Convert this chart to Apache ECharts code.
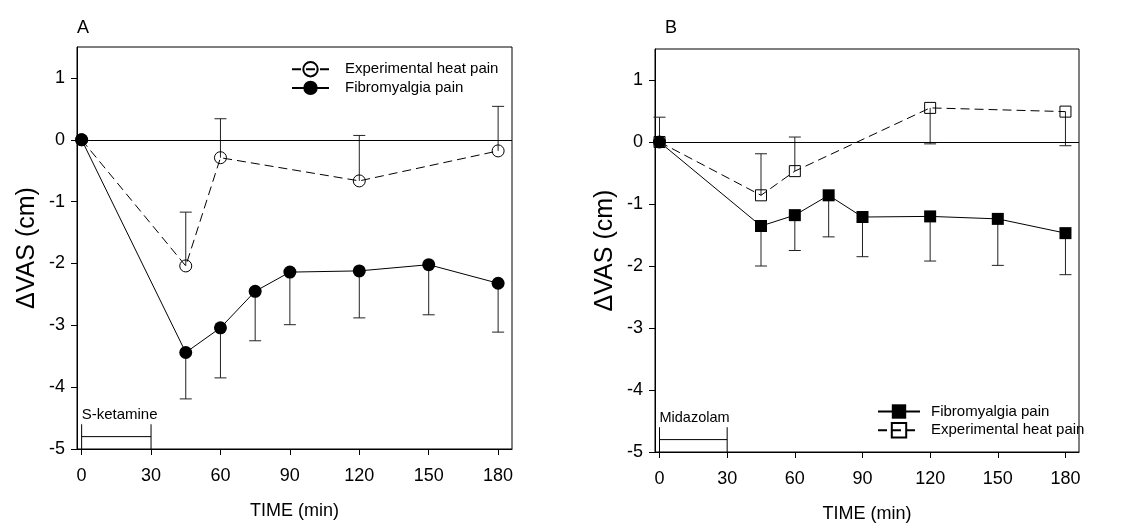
<!DOCTYPE html>
<html><head><meta charset="utf-8">
<script src="https://cdn.jsdelivr.net/npm/echarts@6/dist/echarts.min.js"></script>
<style>html,body{margin:0;padding:0;background:#fff}#c{width:1134px;height:530px}</style>
</head><body><div id="c"></div>
<script>
// ---- tick labels ----
const timeTicks = [0, 30, 60, 90, 120, 150, 180];
const vasTicks = [-5, -4, -3, -2, -1, 0, 1];
// ---- Panel A (S-ketamine) ----
const aFibroTime = [0, 45, 60, 75, 90, 120, 150, 180];
const aFibroVas = [0, -3.44, -3.04, -2.45, -2.14, -2.12, -2.02, -2.32];
const aFibroErrEnd = [null, -4.19, -3.85, -3.25, -2.99, -2.88, -2.83, -3.11];
const aHeatTime = [0, 45, 60, 120, 180];
const aHeatVas = [0, -2.04, -0.29, -0.665, -0.18];
const aHeatErrEnd = [null, -1.17, 0.34, 0.07, 0.54];
// ---- Panel B (Midazolam) ----
const bFibroTime = [0, 45, 60, 75, 90, 120, 150, 180];
const bFibroVas = [0, -1.355, -1.18, -0.86, -1.21, -1.2, -1.24, -1.47];
const bFibroErrEnd = [null, -2.0, -1.75, -1.53, -1.85, -1.92, -1.99, -2.14];
const bHeatTime = [0, 45, 60, 120, 180];
const bHeatVas = [0, -0.86, -0.47, 0.55, 0.49];
const bHeatErrEnd = [0.40, -0.19, 0.08, -0.03, -0.06];
// ---- annotations ----
const panelLetters = ['A', 'B'];
const drugNames = ['S-ketamine', 'Midazolam'];
const infusionWindow = [0, 30];
const bracketLevels = [-4.8, -4.6, -4.45]; // bar, tick top, label
const seriesNames = ['Experimental heat pain', 'Fibromyalgia pain'];

const FONT = '"Liberation Sans", Arial, Helvetica, sans-serif';

function pts(t, v) { return t.map((x, i) => [x, v[i]]); }
function errData(t, v, e) { return t.map((x, i) => [x, v[i], e[i]]).filter(d => d[2] != null); }

function errSeries(idx, data) {
  return {
    type: 'custom', xAxisIndex: idx, yAxisIndex: idx, z: 1, silent: true, data,
    encode: { x: 0, y: [1, 2] },
    renderItem(params, api) {
      const p0 = api.coord([api.value(0), api.value(1)]);
      const p1 = api.coord([api.value(0), api.value(2)]);
      const w = 6;
      return { type: 'group', children: [
        { type: 'line', shape: { x1: p0[0], y1: p0[1], x2: p1[0], y2: p1[1] }, style: { stroke: '#222', lineWidth: 1 } },
        { type: 'line', shape: { x1: p1[0] - w, y1: p1[1], x2: p1[0] + w, y2: p1[1] }, style: { stroke: '#222', lineWidth: 1 } }
      ] };
    }
  };
}

function bracketSeries(idx, label, fs) {
  return {
    type: 'custom', xAxisIndex: idx, yAxisIndex: idx, z: 2, silent: true,
    data: [[infusionWindow[0], infusionWindow[1], bracketLevels[0]]],
    encode: { x: [0, 1], y: 2 },
    renderItem(params, api) {
      const x0 = api.value(0), x1 = api.value(1);
      const yb = api.value(2);
      const a = api.coord([x0, yb]);
      const b = api.coord([x1, yb]);
      const at = api.coord([x0, bracketLevels[1]]);
      const bt = api.coord([x1, bracketLevels[1]]);
      const a0 = api.coord([x0, vasTicks[0]]);
      const b0 = api.coord([x1, vasTicks[0]]);
      const lt = api.coord([x0, bracketLevels[2]]);
      const st = { stroke: '#000', lineWidth: 1 };
      return { type: 'group', children: [
        { type: 'line', shape: { x1: a[0], y1: a[1], x2: b[0], y2: b[1] }, style: st },
        { type: 'line', shape: { x1: at[0], y1: at[1], x2: a0[0], y2: a0[1] }, style: st },
        { type: 'line', shape: { x1: bt[0], y1: bt[1], x2: b0[0], y2: b0[1] }, style: st },
        { type: 'text', x: lt[0], y: lt[1], style: { text: label, fill: '#000', font: fs + 'px ' + FONT, align: 'left', verticalAlign: 'middle' } }
      ] };
    }
  };
}

function xAxisCfg(idx) {
  return {
    type: 'value', gridIndex: idx, min: -2, max: 186,
    name: 'TIME (min)', nameLocation: 'middle', nameGap: 53,
    nameTextStyle: { fontSize: 18, fontFamily: FONT, color: '#000' },
    axisLine: { show: true, onZero: false, lineStyle: { color: '#000', width: 1 } },
    axisTick: { show: true, inside: false, length: 6, customValues: timeTicks, lineStyle: { color: '#000' } },
    axisLabel: { customValues: timeTicks, fontSize: 18, fontFamily: FONT, color: '#000', margin: 18 },
    splitLine: { show: false }
  };
}
function yAxisCfg(idx) {
  return {
    type: 'value', gridIndex: idx, min: -5, max: 1.5,
    name: '\u0394VAS (cm)', nameLocation: 'middle', nameGap: 37,
    nameTextStyle: { fontSize: 25, fontFamily: FONT, color: '#000' },
    axisLine: { show: true, onZero: false, lineStyle: { color: '#000', width: 1 } },
    axisTick: { show: true, inside: false, length: 6, customValues: vasTicks, lineStyle: { color: '#000' } },
    axisLabel: { customValues: vasTicks, fontSize: 18, fontFamily: FONT, color: '#000', margin: 12 },
    splitLine: { show: false }
  };
}

const zeroLine = {
  silent: true, symbol: ['none', 'none'], label: { show: false },
  lineStyle: { color: '#000', width: 1, type: 'solid' },
  emphasis: { disabled: true },
  data: [{ yAxis: 0 }]
};

const openStyle = { color: 'rgba(255,255,255,0)', borderColor: '#000', borderWidth: 1 };
const dash = [9, 5];

const option = {
  animation: false,
  backgroundColor: '#fff',
  textStyle: { fontFamily: FONT },
  title: [
    { text: panelLetters[0], left: 77, top: 19, textStyle: { fontSize: 18, fontWeight: 'normal', color: '#000', fontFamily: FONT }, padding: 0 },
    { text: panelLetters[1], left: 665, top: 19, textStyle: { fontSize: 18, fontWeight: 'normal', color: '#000', fontFamily: FONT }, padding: 0 }
  ],
  grid: [
    { left: 77, top: 47, width: 435, height: 402, show: true, borderColor: '#000', borderWidth: 1, backgroundColor: 'transparent' },
    { left: 655, top: 49, width: 424, height: 403, show: true, borderColor: '#000', borderWidth: 1, backgroundColor: 'transparent' }
  ],
  xAxis: [xAxisCfg(0), xAxisCfg(1)],
  yAxis: [yAxisCfg(0), yAxisCfg(1)],
  legend: [
    {
      data: ['A|' + seriesNames[0], 'A|' + seriesNames[1]],
      formatter: n => n.split('|')[1],
      left: 291, top: 61, orient: 'vertical', padding: 0,
      itemWidth: 37, itemHeight: 18, itemGap: 3, selectedMode: false,
      textStyle: { fontSize: 15, fontFamily: FONT, color: '#000', padding: [0, 0, 0, 11] }
    },
    {
      data: ['B|' + seriesNames[1], 'B|' + seriesNames[0]],
      formatter: n => n.split('|')[1],
      left: 877, top: 404, orient: 'vertical', padding: 0,
      itemWidth: 42, itemHeight: 18, itemGap: 3, selectedMode: false,
      textStyle: { fontSize: 15, fontFamily: FONT, color: '#000', padding: [0, 0, 0, 6] }
    }
  ],
  series: [
    errSeries(0, errData(aFibroTime, aFibroVas, aFibroErrEnd)),
    errSeries(0, errData(aHeatTime, aHeatVas, aHeatErrEnd)),
    {
      name: 'A|' + seriesNames[0], type: 'line', xAxisIndex: 0, yAxisIndex: 0, z: 3,
      data: pts(aHeatTime, aHeatVas), symbol: 'circle', symbolSize: 12,
      lineStyle: { color: '#000', width: 1, type: dash }, itemStyle: openStyle
    },
    {
      name: 'A|' + seriesNames[1], type: 'line', xAxisIndex: 0, yAxisIndex: 0, z: 4,
      data: pts(aFibroTime, aFibroVas), symbol: 'circle', symbolSize: 13,
      lineStyle: { color: '#000', width: 1 }, itemStyle: { color: '#000' },
      markLine: zeroLine
    },
    bracketSeries(0, drugNames[0], 15),
    errSeries(1, errData(bFibroTime, bFibroVas, bFibroErrEnd)),
    errSeries(1, errData(bHeatTime, bHeatVas, bHeatErrEnd)),
    {
      name: 'B|' + seriesNames[0], type: 'line', xAxisIndex: 1, yAxisIndex: 1, z: 3,
      data: pts(bHeatTime, bHeatVas), symbol: 'rect', symbolSize: 11,
      lineStyle: { color: '#000', width: 1, type: dash }, itemStyle: openStyle
    },
    {
      name: 'B|' + seriesNames[1], type: 'line', xAxisIndex: 1, yAxisIndex: 1, z: 4,
      data: pts(bFibroTime, bFibroVas).map((d, i) => i === 0 ? { value: d, symbol: 'circle', symbolSize: 13 } : d),
      symbol: 'rect', symbolSize: 12,
      lineStyle: { color: '#000', width: 1 }, itemStyle: { color: '#000' },
      markLine: zeroLine
    },
    bracketSeries(1, drugNames[1], 14.5)
  ]
};

const chart = echarts.init(document.getElementById('c'), null, { renderer: 'canvas' });
chart.setOption(option);
</script>
</body></html>
